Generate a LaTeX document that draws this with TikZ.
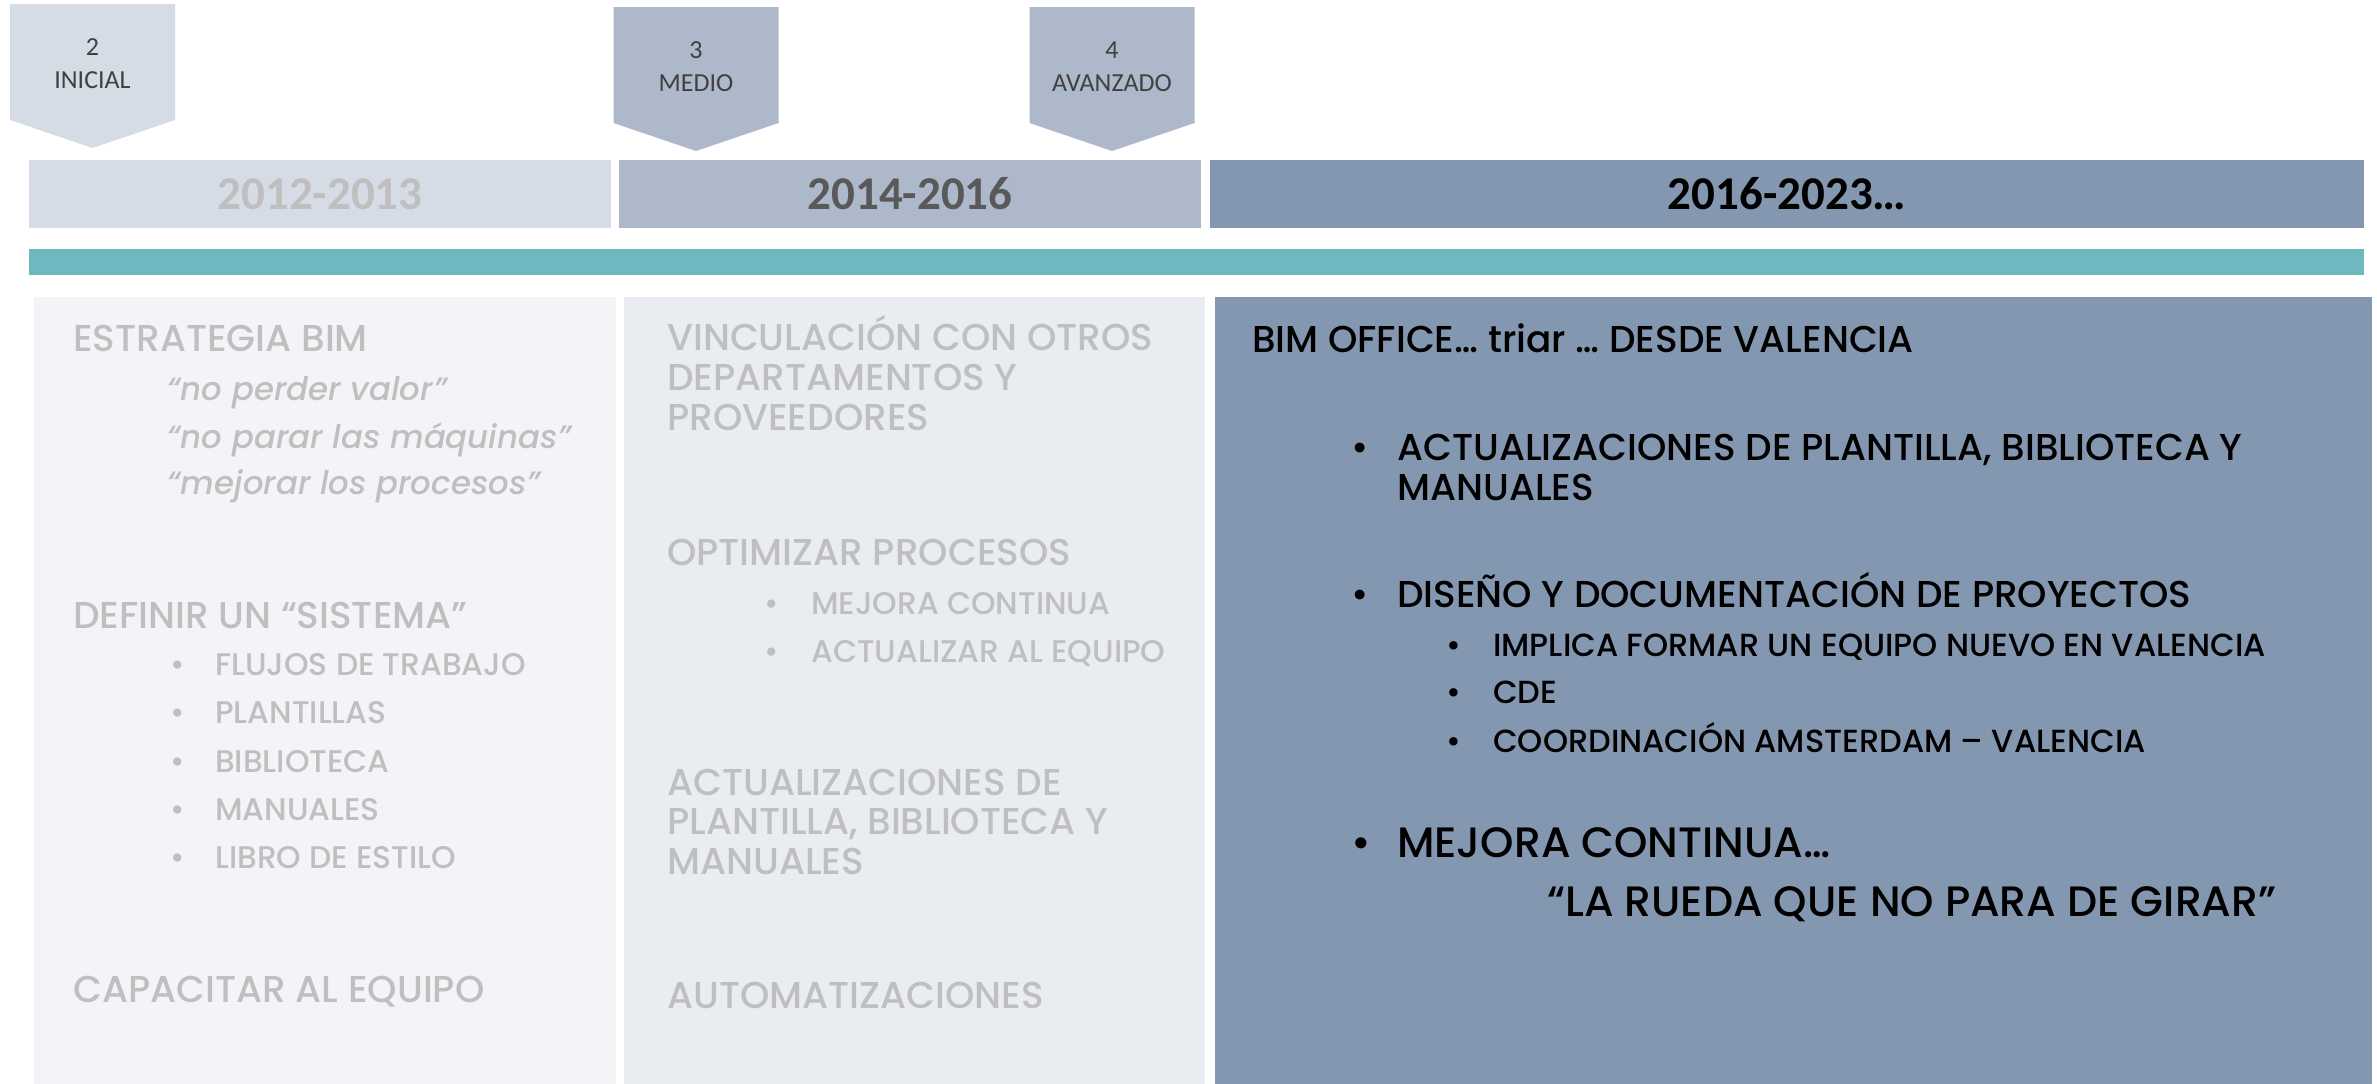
\documentclass[tikz,border=0pt]{standalone}
\usepackage{fontspec}
\setmainfont{Poppins Medium}[ItalicFont={Poppins Medium Italic}]
\newfontfamily\calib{Carlito}
\definecolor{paleblue}{HTML}{D6DCE5}
\definecolor{midblue}{HTML}{ADB9CA}
\definecolor{slateblue}{HTML}{8497B0}
\definecolor{barteal}{HTML}{6DB9BF}
\definecolor{paperA}{HTML}{F3F4F7}
\definecolor{paperB}{HTML}{E9ECF1}
\definecolor{faded}{HTML}{BFBFBF}
\definecolor{lvlgray}{HTML}{404040}
\definecolor{yeargray}{HTML}{595959}
\newcommand{\itemdot}[1]{\makebox[#1][l]{•}}
\begin{document}
\begin{tikzpicture}[x=1pt,y=-1pt,
	yearbox/.style={inner sep=0pt, minimum height=68pt, font=\calib\bfseries\fontsize{47}{50}\selectfont},
	lvltext/.style={font=\calib\fontsize{26}{28}\selectfont, text=lvlgray},
	head/.style={anchor=base west, inner sep=0pt, text=faded, font=\fontsize{37.4}{40}\selectfont},
	quote/.style={anchor=base west, inner sep=0pt, text=faded, font=\itshape\fontsize{32.4}{35}\selectfont},
	sub/.style={anchor=base west, inner sep=0pt, text=faded, font=\fontsize{31.3}{33}\selectfont},
	dark/.style={anchor=base west, inner sep=0pt, text=black, font=\fontsize{37.4}{40}\selectfont},
	darksub/.style={dark, font=\fontsize{32}{34}\selectfont},
	darkbig/.style={dark, font=\fontsize{42.5}{45}\selectfont}]
	\useasboundingbox (0,0) rectangle (2377,1084);
	\fill[white] (0,0) rectangle (2377,1084);
	% level markers
	\foreach \cx/\top/\num/\lvl/\col in {92.5/4/2/INICIAL/paleblue, 696/7/3/MEDIO/midblue, 1112/7/4/AVANZADO/midblue} {
		\fill[\col] (\cx-82.5,\top) -- (\cx+82.5,\top) -- (\cx+82.5,\top+116) -- (\cx,\top+144) -- (\cx-82.5,\top+116) -- cycle;
		\node[lvltext] (num\num) at (\cx,\top+43) {\num};
		\node[lvltext] (lvl\num) at (\cx,\top+76) {\lvl};
	}
	% years
	\node[yearbox, fill=paleblue, minimum width=582pt, text=faded]	(yr1) at (320,194)	{2012-2013};
	\node[yearbox, fill=midblue, minimum width=582pt, text=yeargray]	(yr2) at (910,194)	{2014-2016};
	\node[yearbox, fill=slateblue, minimum width=1154pt, text=black]	(yr3) at (1787,194)	{2016-2023…};
	\fill[barteal] (29,249) rectangle (2364,275);
	% columns
	\fill[paperA] (34,297) rectangle (616,1084);
	\fill[paperB] (624,297) rectangle (1205,1084);
	\fill[slateblue] (1215,297) rectangle (2372,1084);

	\node[head] (strat) at (73,351) {ESTRATEGIA BIM};
	\node[quote] (q1) at (167,400) {“no perder valor”};
	\node[quote] (q2) at (167,448) {“no parar las máquinas”};
	\node[quote] (q3) at (167,494) {“mejorar los procesos”};
	\node[head] (sist) at (73,628) {DEFINIR UN “SISTEMA”};
	\node[sub] (s1) at (170,675) {\itemdot{45pt}FLUJOS DE TRABAJO};
	\node[sub] (s2) at (170,723) {\itemdot{45pt}PLANTILLAS};
	\node[sub] (s3) at (170,772) {\itemdot{45pt}BIBLIOTECA};
	\node[sub] (s4) at (170,820) {\itemdot{45pt}MANUALES};
	\node[sub] (s5) at (170,868) {\itemdot{45pt}LIBRO DE ESTILO};
	\node[head] (capa) at (73,1002) {CAPACITAR AL EQUIPO};

	\node[head] (vinc1) at (667,350) {VINCULACIÓN CON OTROS};
	\node[head] (vinc2) at (667,390) {DEPARTAMENTOS Y};
	\node[head] (vinc3) at (667,430) {PROVEEDORES};
	\node[head] (opti) at (667,565) {OPTIMIZAR PROCESOS};
	\node[sub] (o1) at (764,614) {\itemdot{47pt}MEJORA CONTINUA};
	\node[sub] (o2) at (764,662) {\itemdot{47pt}ACTUALIZAR AL EQUIPO};
	\node[head] (act1) at (667,795) {ACTUALIZACIONES DE};
	\node[head] (act2) at (667,834) {PLANTILLA, BIBLIOTECA Y};
	\node[head] (act3) at (667,874) {MANUALES};
	\node[head] (auto) at (667,1008) {AUTOMATIZACIONES};

	\node[dark] (office) at (1252,352) {BIM OFFICE… triar … DESDE VALENCIA};
	\node[dark] (d1a) at (1351,460) {\itemdot{46pt}ACTUALIZACIONES DE PLANTILLA, BIBLIOTECA Y};
	\node[dark] (d1b) at (1397,500) {MANUALES};
	\node[dark] (d2) at (1351,607) {\itemdot{46pt}DISEÑO Y DOCUMENTACIÓN DE PROYECTOS};
	\node[darksub] (d2a) at (1446,656) {\itemdot{47pt}IMPLICA FORMAR UN EQUIPO NUEVO EN VALENCIA};
	\node[darksub] (d2b) at (1446,703) {\itemdot{47pt}CDE};
	\node[darksub] (d2c) at (1446,752) {\itemdot{47pt}COORDINACIÓN AMSTERDAM – VALENCIA};
	\node[darkbig] (d3) at (1351,857) {\itemdot{46pt}MEJORA CONTINUA…};
	\node[darkbig] (rueda) at (1547,916) {“LA RUEDA QUE NO PARA DE GIRAR”};
\end{tikzpicture}
\end{document}
